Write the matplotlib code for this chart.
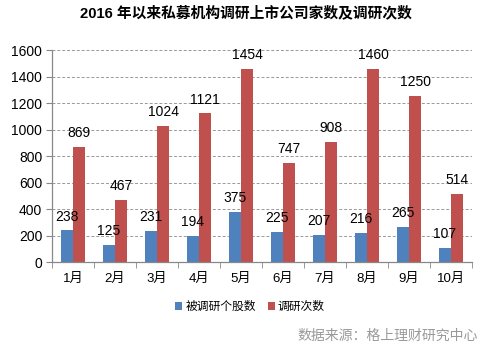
import matplotlib.pyplot as plt
import numpy as np

plt.rcParams['font.family'] = ['Liberation Sans', 'Noto Sans CJK SC', 'DejaVu Sans']

months = ['1月', '2月', '3月', '4月', '5月', '6月', '7月', '8月', '9月', '10月']
stocks = [238, 125, 231, 194, 375, 225, 207, 216, 265, 107]
visits = [869, 467, 1024, 1121, 1454, 747, 908, 1460, 1250, 514]
yticks = [0, 200, 400, 600, 800, 1000, 1200, 1400, 1600]

blue = '#4F81BD'
red = '#C0504D'

fig = plt.figure(figsize=(4.86, 3.47), dpi=100)
ax = fig.add_axes([52/486, 1 - 262/347, 420/486, 212/347])

x = np.arange(len(months))
w = 0.286
b1 = ax.bar(x - w/2, stocks, w, color=blue, label='被调研个股数')
b2 = ax.bar(x + w/2, visits, w, color=red, label='调研次数')

for xi, v in zip(x, stocks):
    ax.annotate(str(v), (xi - w/2, v), xytext=(0, 5), textcoords='offset points',
                ha='center', va='bottom', fontsize=10)
for xi, v in zip(x, visits):
    ax.annotate(str(v), (xi + w/2, v), xytext=(0, 5), textcoords='offset points',
                ha='center', va='bottom', fontsize=10)

ax.set_xlim(-0.5, len(months) - 0.5)
ax.set_ylim(0, 1600)
ax.set_yticks(yticks)
ax.set_yticklabels([str(t) for t in yticks], fontsize=10)
ax.set_xticks(x)
ax.set_xticklabels(months, fontsize=9.5)
ax.set_xticks(np.arange(-0.5, len(months)), minor=True)
ax.tick_params(axis='x', which='major', length=0, pad=8)
ax.tick_params(axis='x', which='minor', length=4, color='#888888', direction='out')
ax.tick_params(axis='y', length=4, color='#888888', direction='out', pad=3)

ax.yaxis.grid(True, linestyle=(0, (3, 2)), color='#999999', linewidth=0.7)
ax.set_axisbelow(True)
for s in ['top', 'right']:
    ax.spines[s].set_visible(False)
for s in ['left', 'bottom']:
    ax.spines[s].set_color('#888888')
    ax.spines[s].set_linewidth(0.9)

fig.text(246/486, 1 - 13/347, '2016 年以来私募机构调研上市公司家数及调研次数',
         ha='center', va='center', fontsize=10.6, fontweight='bold')

fig.legend(handles=[b1, b2], loc='center', bbox_to_anchor=(250/486, 1 - 307/347),
           ncol=2, frameon=False, fontsize=8.5, handlelength=0.6, handleheight=0.6,
           handletextpad=0.25, columnspacing=1.0)

fig.text(478/486, 1 - 336/347, '数据来源：格上理财研究中心', ha='right', va='center',
         fontsize=10, color='#999999')

fig.savefig('out.png', dpi=100)
